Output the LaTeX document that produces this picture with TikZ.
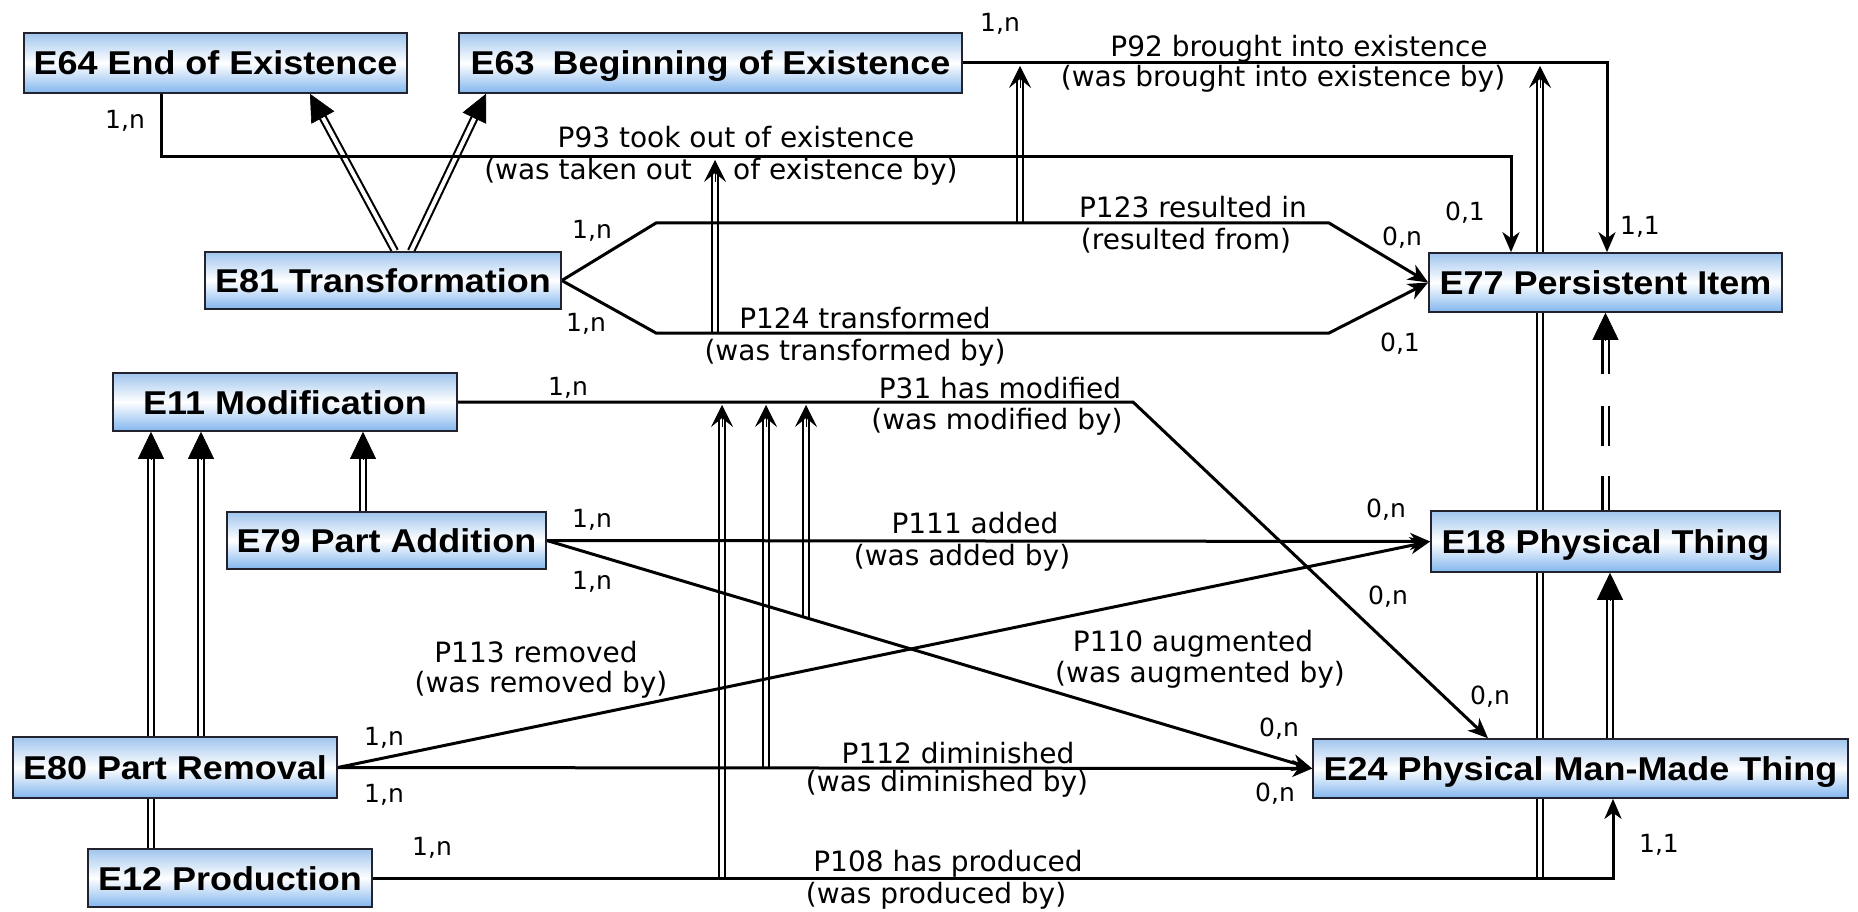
\documentclass[tikz,border=0pt]{standalone}
\usepackage{fontspec}
\usetikzlibrary{arrows.meta,calc,backgrounds}
\newfontfamily\boxfont{Liberation Sans}[FakeStretch=1.09]
\newfontfamily\lblfont{DejaVu Sans}
\definecolor{boxtop}{RGB}{160,197,238}
\definecolor{boxbot}{RGB}{130,182,238}
\definecolor{boxline}{RGB}{35,35,45}
\newcommand{\isaarrow}[3][]{%
  \coordinate (isaS) at (#2); \coordinate (isaT) at (#3);
  \draw[dbl,shorten >=25pt,#1] (isaS) -- (isaT);
  \draw[isahead] ($(isaT)!27pt!(isaS)$) -- (isaT);}
\newcommand{\subarrow}[2]{%
  \draw[dbl,shorten >=12pt] (#1) -- (#2);
  \draw[subhead] ($(#2)!22pt!(#1)$) -- (#2);}
\begin{document}
\begin{tikzpicture}[x=1pt,y=-1pt,
  box/.style={draw=boxline, line width=1.6pt, top color=boxtop, bottom color=boxbot, middle color=white,
    inner sep=0pt, text height=24pt, text depth=0pt, font=\boxfont\bfseries\fontsize{33}{36}\selectfont},
  rel/.style={draw=black, line width=3pt, -{Stealth[length=20pt,width=17pt,inset=6pt]}},
  dbl/.style={draw=black, line width=2.1pt, double=white, double distance=4pt},
  isahead/.style={draw=black, line width=0.6pt, -{Triangle[length=27pt,width=26pt]}},
  subhead/.style={draw=black, line width=0.6pt, -{Stealth[length=22pt,width=22pt,inset=9pt]}},
  lbl/.style={font=\lblfont\fontsize{28}{30}\selectfont, inner sep=0pt, text height=20pt, text depth=0pt},
  card/.style={font=\lblfont\fontsize{25}{27}\selectfont, inner sep=0pt, text height=18pt, text depth=0pt},
]
\useasboundingbox (0,0) rectangle (1858,912);

% ---------- entity boxes ----------
\node[box, minimum width=383pt, minimum height=60pt] (e64) at (215.5,63) {E64 End of Existence};
\node[box, minimum width=503pt, minimum height=60pt] (e63) at (710.5,63) {E63\hspace{0.55em}Beginning of Existence};
\node[box, minimum width=356pt, minimum height=57pt] (e81) at (383,280.5) {E81 Transformation};
\node[box, minimum width=353pt, minimum height=59pt] (e77) at (1605.5,282.5) {E77 Persistent Item};
\node[box, minimum width=344pt, minimum height=58pt] (e11) at (285,402) {E11 Modification};
\node[box, minimum width=319pt, minimum height=57pt] (e79) at (386.5,540.5) {E79 Part Addition};
\node[box, minimum width=349pt, minimum height=61pt] (e18) at (1605.5,541.5) {E18 Physical Thing};
\node[box, minimum width=324pt, minimum height=61pt] (e80) at (175,767.5) {E80 Part Removal};
\node[box, minimum width=284pt, minimum height=58pt] (e12) at (230,878) {E12 Production};
\node[box, minimum width=535pt, minimum height=59pt] (e24) at (1580.5,768.5) {E24 Physical Man-Made Thing};

% ---------- helper coordinates ----------
\coordinate (k1) at (395,0);  \coordinate (k2) at (310,0);
\coordinate (k3) at (411,0);  \coordinate (k4) at (486,0);
\coordinate (k5) at (363,0);  \coordinate (k6) at (201,0);
\coordinate (k7) at (151,0);  \coordinate (k8) at (1610,0);
\coordinate (p93a) at (161,157);  \coordinate (p93b) at (1511,157);
\coordinate (p92a) at (1607,63);
\coordinate (p123a) at (656,223); \coordinate (p123b) at (1329,223);
\coordinate (p124a) at (656,333); \coordinate (p124b) at (1329,333);
\coordinate (p31a) at (1133,402); \coordinate (p31b) at (1488,0);
\coordinate (p108a) at (1613,0);
% sub-property arrows
\coordinate (q1s) at (1020,223);  \coordinate (q1t) at (1020,66);
\coordinate (q2s) at (715,333);   \coordinate (q2t) at (715,160);
\coordinate (q3s) at (1540,878);  \coordinate (q3t) at (1540,66);
\coordinate (q4s) at (722,878);   \coordinate (q4t) at (722,405);
\coordinate (q5s) at (766,768);   \coordinate (q5t) at (766,405);
\coordinate (q6s) at (806,618);   \coordinate (q6t) at (806,405);

\begin{scope}[on background layer]
\fill[white] (0,0) rectangle (1858,912);
% entity inheritance
\isaarrow{k1 |- e81.north}{k2 |- e64.south}
\isaarrow{k3 |- e81.north}{k4 |- e63.south}
\isaarrow{k5 |- e79.north}{k5 |- e11.south}
\isaarrow{k6 |- e80.north}{k6 |- e11.south}
\isaarrow{k7 |- e12.north}{k7 |- e11.south}
\isaarrow[dash pattern=on 34pt off 30pt on 40pt off 32pt]{e18.north}{e77.south}
\isaarrow{k8 |- e24.north}{k8 |- e18.south}
% property inheritance
\subarrow{q1s}{q1t}
\subarrow{q2s}{q2t}
\subarrow{q3s}{q3t}
\subarrow{q4s}{q4t}
\subarrow{q5s}{q5t}
\subarrow{q6s}{q6t}
% properties
\draw[rel] (p93a |- e64.south) -- (p93a) -- (p93b) -- (p93b |- e77.north);
\draw[rel] (e63.east) -- (p92a) -- (p92a |- e77.north);
\draw[rel] (e81.east) -- (p123a) -- (p123b) -- (e77.west);
\draw[rel] (e81.east) -- (p124a) -- (p124b) -- (e77.west);
\draw[rel] (e11.east) -- (p31a) -- (p31b |- e24.north);
\draw[rel] (e79.east) -- (e18.west);
\draw[rel] (e79.east) -- (e24.west);
\draw[rel] (e80.east) -- (e18.west);
\draw[rel] (e80.east) -- (e24.west);
\draw[rel] (e12.east) -- (e12.east -| p108a) -- (p108a |- e24.south);
\end{scope}

% ---------- property labels ----------
\node[lbl] (l93a) at (736,138) {P93 took out of existence};
\node[lbl, anchor=east] (l93b) at (692,170) {(was taken out};
\node[lbl, anchor=west] (l93c) at (733,170) {of existence by)};
\node[lbl] (l92a) at (1299,47) {P92 brought into existence};
\node[lbl] (l92b) at (1283,77) {(was brought into existence by)};
\node[lbl] (l123a) at (1193,208) {P123 resulted in};
\node[lbl] (l123b) at (1186,240) {(resulted from)};
\node[lbl] (l124a) at (865,318) {P124 transformed};
\node[lbl] (l124b) at (855,350) {(was transformed by)};
\node[lbl] (l31a) at (1000,388) {P31 has modified};
\node[lbl] (l31b) at (997,419) {(was modified by)};
\node[lbl] (l111a) at (975,523) {P111 added};
\node[lbl] (l111b) at (962,555) {(was added by)};
\node[lbl] (l113a) at (536,652) {P113 removed};
\node[lbl] (l113b) at (541,682) {(was removed by)};
\node[lbl] (l110a) at (1193,641) {P110 augmented};
\node[lbl] (l110b) at (1200,672) {(was augmented by)};
\node[lbl] (l112a) at (958,753) {P112 diminished};
\node[lbl] (l112b) at (947,781) {(was diminished by)};
\node[lbl] (l108a) at (948,861) {P108 has produced};
\node[lbl] (l108b) at (936,893) {(was produced by)};

% ---------- cardinalities ----------
\node[card] (c1) at (125,120) {1,n};
\node[card] (c2) at (1000,23) {1,n};
\node[card] (c3) at (1640,225) {1,1};
\node[card] (c4) at (1465,212) {0,1};
\node[card] (c5) at (592,230) {1,n};
\node[card] (c6) at (1402,236) {0,n};
\node[card] (c7) at (586,322) {1,n};
\node[card] (c8) at (1400,342) {0,1};
\node[card] (c9) at (568,386) {1,n};
\node[card] (c10) at (592,518) {1,n};
\node[card] (c11) at (592,580) {1,n};
\node[card] (c12) at (1386,508) {0,n};
\node[card] (c13) at (1388,595) {0,n};
\node[card] (c14) at (1490,695) {0,n};
\node[card] (c15) at (1279,727) {0,n};
\node[card] (c16) at (1275,792) {0,n};
\node[card] (c17) at (384,736) {1,n};
\node[card] (c18) at (384,793) {1,n};
\node[card] (c19) at (432,846) {1,n};
\node[card] (c20) at (1659,843) {1,1};
\end{tikzpicture}
\end{document}
